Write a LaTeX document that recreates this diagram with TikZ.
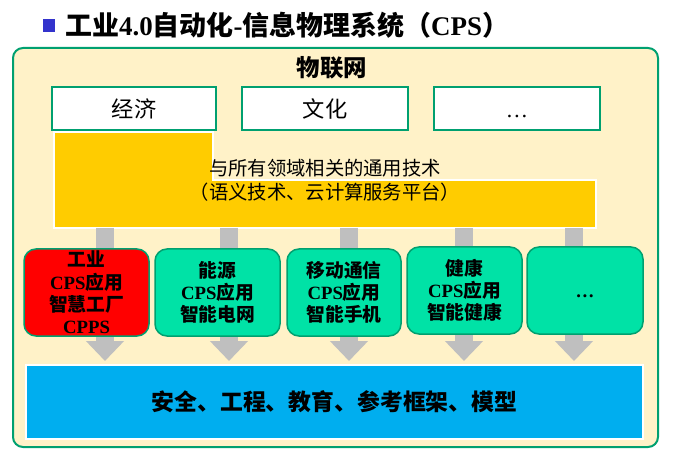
\documentclass[tikz,border=0pt]{standalone}
\usepackage{fontspec}
\setmainfont{Noto Sans CJK SC}
\newfontfamily\latin{Liberation Serif}
\usetikzlibrary{arrows.meta}

\begin{document}
\begin{tikzpicture}[x=0.03cm,y=-0.03cm]

% 颜色
\definecolor{colBg}{HTML}{FFF2C8}
\definecolor{colFrame}{HTML}{00A070}
\definecolor{colTech}{HTML}{FFCC00}
\definecolor{colApp}{HTML}{00E2A6}
\definecolor{colRed}{HTML}{FF0000}
\definecolor{colBase}{HTML}{00AEEF}
\definecolor{colArrow}{HTML}{BFBFBF}
\definecolor{colBullet}{HTML}{3333CC}

% 一个像素
\def\px{0.03cm}

\tikzset{
  topbox/.style={draw=colFrame, line width=0.06cm, fill=white, minimum height=1.29cm,
    inner sep=0pt, font=\fontsize{19}{22}\selectfont},
  appbox/.style={draw=colFrame, line width=0.045cm, fill=colApp, rounded corners=0.36cm,
    minimum height=2.61cm, inner sep=0pt, align=center,
    font=\fontsize{16}{19}\selectfont\bfseries},
  grayarrow/.style={draw=colArrow, line width=0.54cm,
    -{Triangle[width=1.11cm, length=0.6cm]}}
}

\useasboundingbox (0,0) rectangle (673,454);

% 标题
\fill[colBullet] (43,19) rectangle (55,32);
\node[anchor=west, inner sep=0pt, font=\fontsize{23}{27}\selectfont\bfseries] (title) at (65,25)
  {工业{\latin 4.0}自动化{\latin -}信息物理系统（{\latin CPS}）};

% 外框
\draw[colFrame, fill=colBg, line width=0.06cm, rounded corners=0.3cm] (13,48) rectangle (658,447);
\node[font=\fontsize{20}{22}\selectfont\bfseries] (iot) at (332,68) {物联网};

% 领域
\node[topbox, minimum width=164*\px] (econ) at (134,108.5) {经济};
\node[topbox, minimum width=166*\px] (cult) at (325,108.5) {文化};
\node[topbox, minimum width=166*\px] (more) at (517,108.5) {\vphantom{经}\latin …};

% 通用技术 (L形)
\draw[white, fill=colTech, line width=0.045cm]
  (54,132) -- (213,132) -- (213,180) -- (596,180) -- (596,228) -- (54,228) -- cycle;
\coordinate (bandbot) at (54,228);
\node[align=center, font=\fontsize{16.5}{20.4}\selectfont] (tech) at (325,180)
  {与所有领域相关的通用技术\\（语义技术、云计算服务平台）};

% 基础
\node[draw=white, line width=0.06cm, fill=colBase, minimum width=617*\px, minimum height=74*\px,
  font=\fontsize{19.5}{24}\selectfont\bfseries] (base) at (334.5,402)
  {安全、工程、教育、参考框架、模型};

% 灰色箭头
\foreach \x in {105,229,349,464,574} {
  \coordinate (ax) at (\x,0);
  \draw[grayarrow] (ax |- bandbot) -- ([yshift=0.09cm]ax |- base.north);
}

% 应用
\node[appbox, fill=colRed, minimum width=125*\px] (ind) at (86.5,292.5)
  {工业\\{\latin CPS}应用\\智慧工厂\\{\latin CPPS}};
\node[appbox, minimum width=125*\px] (energy) at (217.5,292.5)
  {能源\\{\latin CPS}应用\\智能电网};
\node[appbox, minimum width=114*\px] (mobile) at (344,292.5)
  {移动通信\\{\latin CPS}应用\\智能手机};
\node[appbox, minimum width=115*\px] (health) at (464.5,290.5)
  {健康\\{\latin CPS}应用\\智能健康};
\node[appbox, minimum width=116*\px] (etc) at (585,290.5) {\vphantom{健}\latin …};

\end{tikzpicture}
\end{document}
